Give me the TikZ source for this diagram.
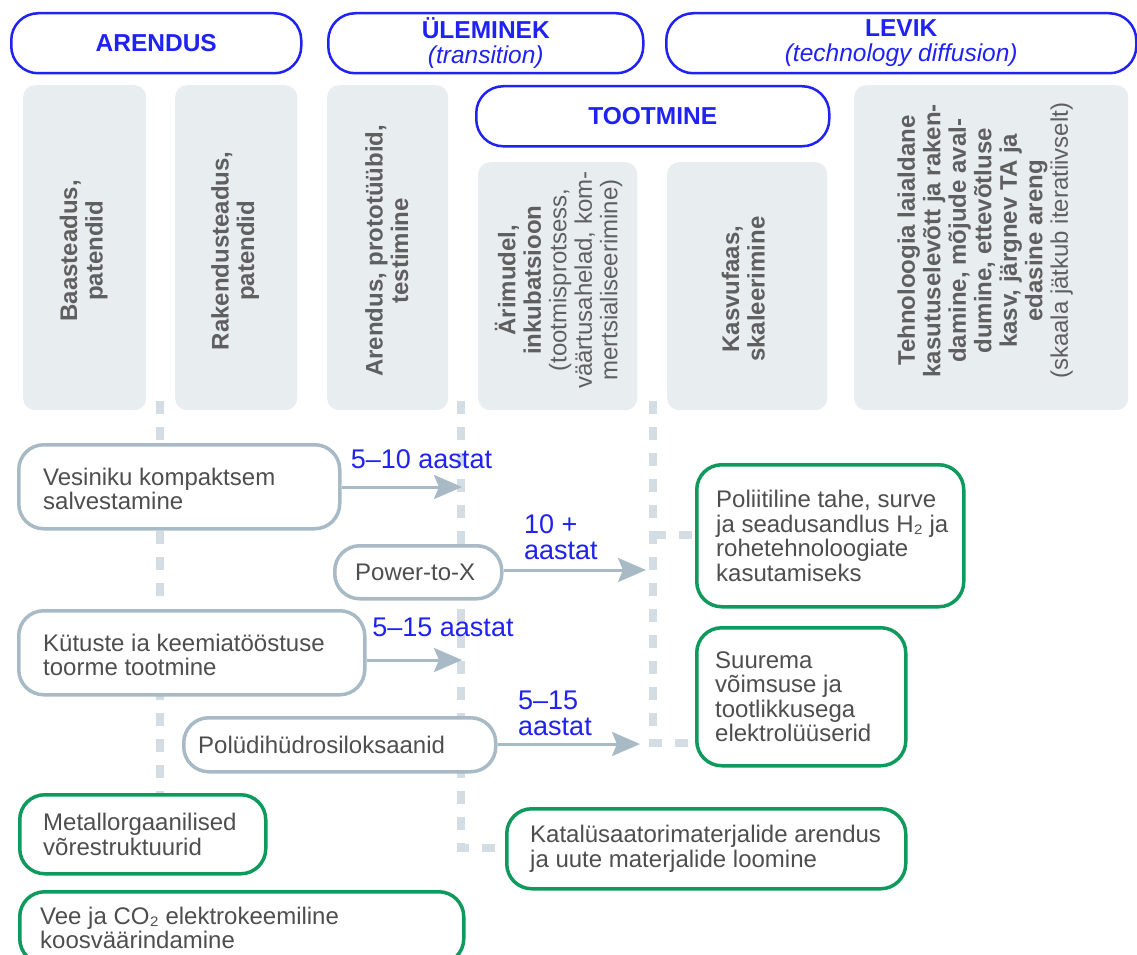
\documentclass[tikz,border=0pt]{standalone}
\usepackage{fontspec}
\setmainfont{Liberation Sans}
\usetikzlibrary{arrows.meta,backgrounds}
\definecolor{hblue}{HTML}{1F22F2}
\definecolor{labblue}{HTML}{1F22F2}
\definecolor{colfill}{HTML}{E8EDF0}
\definecolor{coltext}{HTML}{5F5F5F}
\definecolor{lgray}{HTML}{A7BAC6}
\definecolor{dashc}{HTML}{D4DDE3}
\definecolor{grn}{HTML}{0E9A5C}
\definecolor{btext}{HTML}{4E4E4E}
\tikzset{
  hdr/.style={draw=hblue, line width=2.5pt, rounded corners=27pt, fill=white, anchor=north west, inner sep=0pt, text=hblue, align=center, font=\fontsize{24.5}{25}\selectfont},
  colbox/.style={fill=colfill, rounded corners=12pt, anchor=north west, inner sep=0pt},
  coltxt/.style={text=coltext, font=\fontsize{24}{25.5}\selectfont, align=center, inner sep=0pt, rotate=90},
  lbox/.style={draw=lgray, line width=3.5pt, rounded corners=25pt, fill=white, anchor=north west, inner sep=0pt},
  gbox/.style={draw=grn, line width=3.5pt, rounded corners=25pt, fill=white, anchor=north west, inner sep=0pt},
  btxt/.style={text=btext, font=\fontsize{24}{24.5}\selectfont, align=left, inner sep=0pt, anchor=west},
  lab/.style={text=labblue, font=\fontsize{27}{26}\selectfont, align=left, inner sep=0pt},
  arr/.style={draw=lgray, line width=3pt, -{Stealth[length=28pt, width=24pt, inset=5pt]}},
  dline/.style={draw=dashc, line width=7.5pt, dash pattern=on 13pt off 13pt},
}
\begin{document}
\begin{tikzpicture}[x=1pt,y=-1pt]
\useasboundingbox (0,0) rectangle (1137,955);
\clip (0,0) rectangle (1137,955);

% header boxes
\node[hdr, minimum width=290, minimum height=60] (hA) at (10,12) {\textbf{ARENDUS}};
\node[hdr, minimum width=315, minimum height=60] (hU) at (327,12) {\textbf{ÜLEMINEK}\\\textit{(transition)}};
\node[hdr, minimum width=470, minimum height=60] (hL) at (665,12) {\textbf{LEVIK}\\\textit{(technology diffusion)}};
\node[hdr, minimum width=353, minimum height=60] (hT) at (475,85) {\textbf{TOOTMINE}};

% column boxes
\node[colbox, minimum width=123, minimum height=325] (c1) at (23,85) {};
\node[colbox, minimum width=122, minimum height=325] (c2) at (175,85) {};
\node[colbox, minimum width=121, minimum height=325] (c3) at (327,85) {};
\node[colbox, minimum width=159, minimum height=248] (c4) at (478,162) {};
\node[colbox, minimum width=160, minimum height=248] (c5) at (667,162) {};
\node[colbox, minimum width=274, minimum height=325] (c6) at (854,85) {};

\node[coltxt] (c1t) at ([xshift=-1pt,yshift=-3pt]c1.center) {\textbf{Baasteadus,}\\\textbf{patendid}};
\node[coltxt] (c2t) at ([xshift=-1pt,yshift=-3pt]c2.center) {\textbf{Rakendusteadus,}\\\textbf{patendid}};
\node[coltxt] (c3t) at ([xshift=-1pt,yshift=-3pt]c3.center) {\textbf{Arendus, prototüübid,}\\\textbf{testimine}};
\node[coltxt] (c4t) at ([xshift=1pt,yshift=6pt]c4.center) {\textbf{Ärimudel,}\\\textbf{inkubatsioon}\\(tootmisprotsess,\\väärtusahelad, kom-\\mertsialiseerimine)};
\node[coltxt] (c5t) at ([xshift=-4pt,yshift=-3pt]c5.center) {\textbf{Kasvufaas,}\\\textbf{skaleerimine}};
\node[coltxt] (c6t) at ([xshift=-6pt,yshift=7pt]c6.center) {\textbf{Tehnoloogia laialdane}\\\textbf{kasutuselevõtt ja raken-}\\\textbf{damine, mõjude aval-}\\\textbf{dumine, ettevõtluse}\\\textbf{kasv, järgnev TA ja}\\\textbf{edasine areng}\\(skaala jätkub iteratiivselt)};

% light boxes
\node[lbox, minimum width=321, minimum height=84] (ves) at (17,443) {};
\node[btxt] (vesT) at ([xshift=26pt,yshift=-2pt]ves.west) {Vesiniku kompaktsem\\salvestamine};
\node[lbox, minimum width=167, minimum height=53] (pow) at (333,544) {};
\node[btxt] (powT) at ([xshift=22pt]pow.west) {Power-to-X};
\node[lbox, minimum width=346, minimum height=84] (kut) at (17,609) {};
\node[btxt] (kutT) at ([xshift=26pt,yshift=-2pt]kut.west) {Kütuste ia keemiatööstuse\\toorme tootmine};
\node[lbox, minimum width=312, minimum height=54] (pdh) at (182,716) {};
\node[btxt] (pdhT) at ([xshift=16pt]pdh.west) {Polüdihüdrosiloksaanid};

% green boxes
\node[gbox, minimum width=267, minimum height=142] (pol) at (695,463) {};
\node[btxt] (polT) at ([xshift=21pt]pol.west) {Poliitiline tahe, surve\\ja seadusandlus H₂ ja\\rohetehnoloogiate\\kasutamiseks};
\node[gbox, minimum width=209, minimum height=138] (sur) at (695,626) {};
\node[btxt] (surT) at ([xshift=20pt]sur.west) {Suurema\\võimsuse ja\\tootlikkusega\\elektrolüüserid};
\node[gbox, minimum width=246, minimum height=79] (met) at (18,793) {};
\node[btxt] (metT) at ([xshift=25pt]met.west) {Metallorgaanilised\\võrestruktuurid};
\node[gbox, minimum width=399, minimum height=80] (kat) at (505,807) {};
\node[btxt] (katT) at ([xshift=25pt]kat.west) {Katalüsaatorimaterjalide arendus\\ja uute materjalide loomine};
\node[gbox, minimum width=444, minimum height=72] (vee) at (18,890) {};
\node[btxt] (veeT) at ([xshift=22pt]vee.west) {Vee ja CO₂ elektrokeemiline\\koosväärindamine};

% arrows
\coordinate (t1) at (462,487);
\coordinate (t2) at (646,570);
\coordinate (t3) at (462,660);
\coordinate (t4) at (640,744);
\draw[arr] (ves.east |- t1) -- (t1);
\draw[arr] (pow.east |- t2) -- (t2);
\draw[arr] (kut.east |- t3) -- (t3);
\draw[arr] (pdh.east |- t4) -- (t4);

% labels
\node[lab, anchor=center] (l1) at (421.5,459) {5–10 aastat};
\node[lab, anchor=west] (l2) at (524,537) {10 +\\aastat};
\node[lab, anchor=center] (l3) at (443,627) {5–15 aastat};
\node[lab, anchor=west] (l4) at (518,713) {5–15\\aastat};

% dashed guide lines
\coordinate (d1a) at (160,401);
\coordinate (d1b) at (160,795);
\coordinate (d2a) at (461,401);
\coordinate (d2b) at (461,848);
\coordinate (d3a) at (653,401);
\coordinate (d3b) at (653,743);
\coordinate (d3m) at (653,535);
\begin{scope}[on background layer]
\fill[white] (0,0) rectangle (1137,955);
\draw[dline] (d1a) -- (d1b);
\draw[dline] (d2a) -- (d2b) -- (d2b -| kat.west);
\draw[dline] (d3a) -- (d3b) -- (d3b -| sur.west);
\draw[dline] (d3m) -- (d3m -| pol.west);
\end{scope}
\end{tikzpicture}
\end{document}
